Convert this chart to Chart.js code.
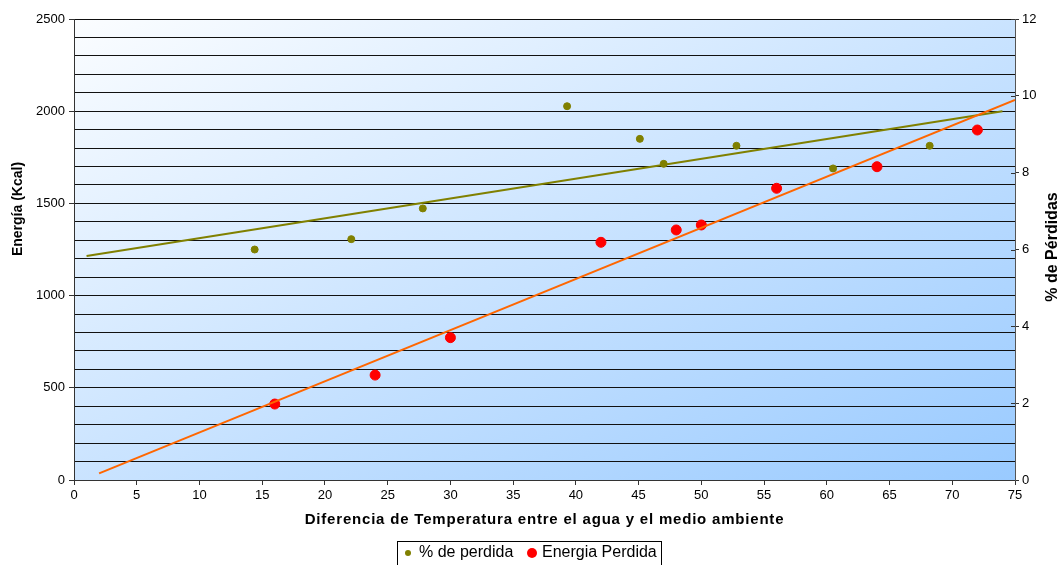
<!DOCTYPE html>
<html>
<head>
<meta charset="utf-8">
<title>Energía perdida vs diferencia de temperatura</title>
<script src="https://cdn.jsdelivr.net/npm/chart.js@4"></script>
<style>
  html, body { margin: 0; padding: 0; background: #ffffff; }
  #wrap { width: 1064px; height: 565px; }
</style>
</head>
<body>
<div id="wrap"><canvas id="chart" width="1064" height="565"></canvas></div>
<script>
// Temperature difference (x) and percentage of heat lost (right axis)
const pctTempDiff = [14.4, 22.1, 27.8, 39.3, 45.1, 47.0, 52.8, 60.5, 68.2];
const pctLoss = [6.0, 6.27, 7.07, 9.73, 8.88, 8.23, 8.70, 8.11, 8.70];

// Temperature difference (x) and energy lost in Kcal (left axis)
const energyTempDiff = [16, 24, 30, 42, 48, 50, 56, 64, 72];
const energyLoss = [412, 569, 772, 1289, 1356, 1383, 1582, 1699, 1898];

// Linear trend lines: start and end points
const pctTrendX = [1, 74];
const pctTrendY = [5.83, 9.60];
const energyTrendX = [2, 75];
const energyTrendY = [36, 2061];

const seriesLabels = ['% de perdida', 'Energia Perdida'];
const axisTitles = {
  x: 'Diferencia de Temperatura entre el agua y el medio ambiente',
  y: 'Energía (Kcal)',
  y2: '% de Pérdidas'
};

const FONT = "'Liberation Sans', Arial, sans-serif";
const OLIVE = '#808000';
const RED = '#ff0000';
const ORANGE = '#ff6600';

const toPoints = (xs, ys) => xs.map((x, i) => ({ x: x, y: ys[i] }));

// Diagonal light-blue fill behind the plot area
const plotBackground = {
  id: 'plotBackground',
  beforeDraw(chart) {
    const { ctx, chartArea: a } = chart;
    const w = a.right - a.left, h = a.bottom - a.top;
    const k = 2 * w * h / (w * w + h * h);
    const g = ctx.createLinearGradient(a.left, a.top, a.left + k * h, a.top + k * w);
    g.addColorStop(0, '#fbfdff');
    g.addColorStop(1, '#99caff');
    ctx.save();
    ctx.fillStyle = g;
    ctx.fillRect(a.left, a.top, w, h);
    ctx.restore();
  }
};

// Axis titles, inner tick marks of the right axis and the boxed legend
const annotations = {
  id: 'annotations',
  afterDraw(chart) {
    const { ctx, chartArea: a } = chart;
    ctx.save();

    // right axis ticks cross the axis line
    const y2 = chart.scales.y2;
    ctx.strokeStyle = '#333';
    ctx.lineWidth = 1;
    y2.ticks.forEach((t) => {
      const py = Math.round(y2.getPixelForValue(t.value)) + 0.5;
      ctx.beginPath();
      ctx.moveTo(a.right - 4, py);
      ctx.lineTo(a.right, py);
      ctx.stroke();
    });

    ctx.fillStyle = '#000';
    ctx.textAlign = 'center';
    ctx.textBaseline = 'middle';

    ctx.font = 'bold 15px ' + FONT;
    ctx.letterSpacing = '0.8px';
    ctx.fillText(axisTitles.x, (a.left + a.right) / 2, 520);
    ctx.letterSpacing = '0px';

    ctx.font = 'bold 14px ' + FONT;
    ctx.save();
    ctx.translate(18, 209);
    ctx.rotate(-Math.PI / 2);
    ctx.fillText(axisTitles.y, 0, 0);
    ctx.restore();

    ctx.font = 'bold 16px ' + FONT;
    ctx.save();
    ctx.translate(1053, 247);
    ctx.rotate(-Math.PI / 2);
    ctx.fillText(axisTitles.y2, 0, 0);
    ctx.restore();

    // legend
    const bx = 397.5, by = 541.5, bw = 264, bh = 30;
    ctx.strokeStyle = '#000';
    ctx.lineWidth = 1;
    ctx.strokeRect(bx, by, bw, bh);
    ctx.font = '16px ' + FONT;
    ctx.textAlign = 'left';
    const ly = 553;
    ctx.fillStyle = OLIVE;
    ctx.beginPath(); ctx.arc(408, ly, 3, 0, Math.PI * 2); ctx.fill();
    ctx.fillStyle = '#000';
    ctx.fillText(seriesLabels[0], 419, ly);
    ctx.fillStyle = RED;
    ctx.beginPath(); ctx.arc(532, ly, 5, 0, Math.PI * 2); ctx.fill();
    ctx.fillStyle = '#000';
    ctx.fillText(seriesLabels[1], 542, ly);
    ctx.restore();
  }
};

new Chart(document.getElementById('chart'), {
  type: 'scatter',
  data: {
    datasets: [
      {
        label: seriesLabels[0],
        data: toPoints(pctTempDiff, pctLoss),
        yAxisID: 'y2',
        backgroundColor: OLIVE,
        borderColor: OLIVE,
        pointRadius: 3.5,
        order: 3
      },
      {
        label: seriesLabels[1],
        data: toPoints(energyTempDiff, energyLoss),
        yAxisID: 'y',
        backgroundColor: RED,
        borderColor: RED,
        pointRadius: 5,
        order: 4
      },
      {
        label: 'trend pct',
        type: 'line',
        data: toPoints(pctTrendX, pctTrendY),
        yAxisID: 'y2',
        borderColor: OLIVE,
        borderWidth: 2,
        pointRadius: 0,
        fill: false,
        order: 2
      },
      {
        label: 'trend energy',
        type: 'line',
        data: toPoints(energyTrendX, energyTrendY),
        yAxisID: 'y',
        borderColor: ORANGE,
        borderWidth: 2,
        pointRadius: 0,
        fill: false,
        order: 1
      }
    ]
  },
  options: {
    responsive: false,
    animation: false,
    layout: { padding: { top: 19, left: 0, right: 0, bottom: 0 } },
    plugins: {
      legend: { display: false },
      tooltip: { enabled: false },
      title: { display: false }
    },
    scales: {
      x: {
        type: 'linear',
        min: 0, max: 75,
        afterFit(s) { s.height = 85; },
        ticks: { stepSize: 5, color: '#000', font: { family: FONT, size: 13 }, padding: 3 },
        grid: { drawOnChartArea: false, tickLength: 5, tickColor: '#333' },
        border: { color: '#333', width: 1 }
      },
      y: {
        position: 'left',
        min: 0, max: 2500,
        afterFit(s) { s.width = 74; },
        ticks: {
          stepSize: 100,
          color: '#000',
          font: { family: FONT, size: 13 },
          padding: 4,
          autoSkip: false,
          callback: (v) => (v % 500 === 0 ? v : '')
        },
        grid: {
          color: '#111',
          lineWidth: 1,
          tickLength: 5,
          tickColor: (c) => (c.tick && c.tick.value % 500 === 0 ? '#333' : 'rgba(0,0,0,0)')
        },
        border: { color: '#333', width: 1 }
      },
      y2: {
        position: 'right',
        min: 0, max: 12,
        afterFit(s) { s.width = 49; },
        ticks: { stepSize: 2, color: '#000', font: { family: FONT, size: 13 }, padding: 3 },
        grid: { drawOnChartArea: false, tickLength: 4, tickColor: '#333' },
        border: { color: '#555', width: 1 }
      }
    }
  },
  plugins: [plotBackground, annotations]
});
</script>
</body>
</html>
